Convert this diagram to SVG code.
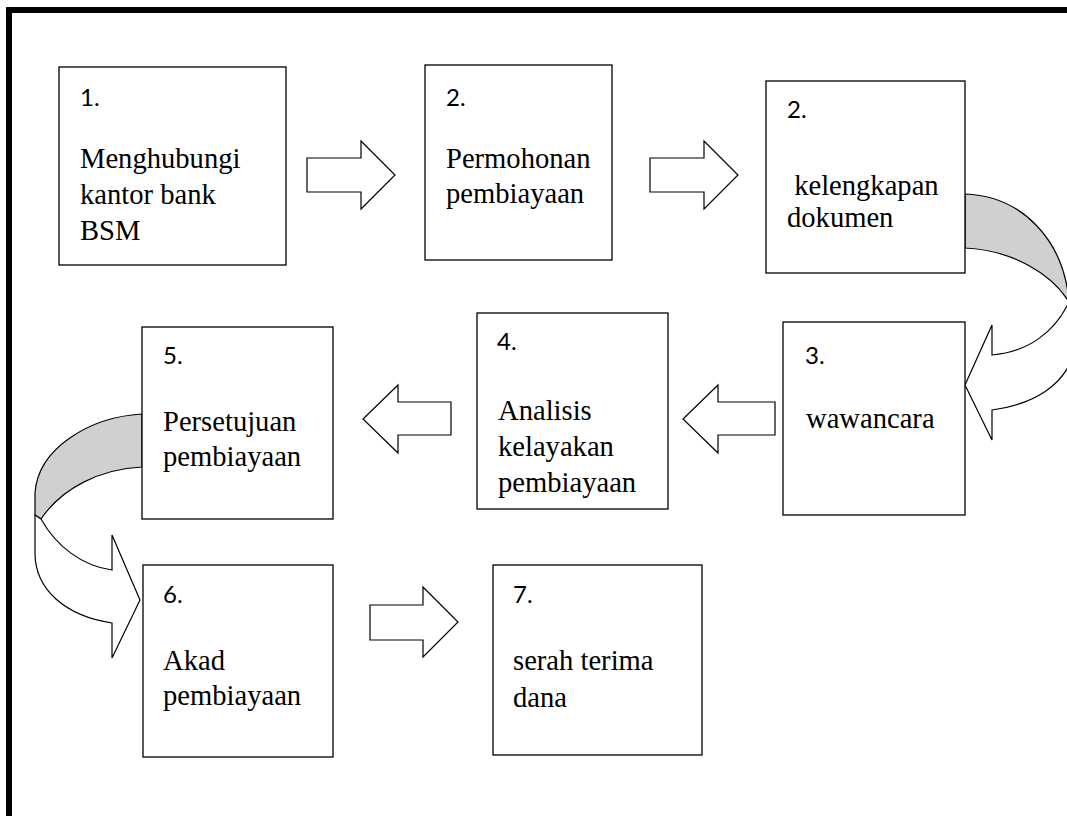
<svg xmlns="http://www.w3.org/2000/svg" width="1067" height="816" viewBox="0 0 1067 816">
<style>
.box{fill:#fff;stroke:#000;stroke-width:1.3}
.num{font-family:Lato,"Liberation Sans",sans-serif;font-size:24px;fill:#000}
.t{font-family:"Liberation Serif","Times New Roman",serif;font-size:28.6px;fill:#000}
.ar{fill:#fff;stroke:#000;stroke-width:1.2;stroke-linejoin:miter}
.band{fill:#d0d0d0;stroke:#000;stroke-width:1.2}
</style>
<rect x="0" y="0" width="1067" height="816" fill="#fff"/>
<rect x="9" y="10" width="1070" height="830" fill="none" stroke="#000" stroke-width="6"/>
<g id="connectors">
<path class="ar" d="M307,158 L361,158 L361,141 L395,175 L361,209 L361,192 L307,192 Z"/>
<path class="ar" d="M650,158 L704,158 L704,141 L738,175 L704,209 L704,192 L650,192 Z"/>
<path class="ar" d="M775,402 L718,402 L718,385 L683,419 L718,453 L718,435 L775,435 Z"/>
<path class="ar" d="M451,402 L398,402 L398,385 L363,419 L398,453 L398,435 L451,435 Z"/>
<path class="ar" d="M370,605 L423,605 L423,587 L458,622 L423,657 L423,640 L370,640 Z"/>
<path class="band" d="M965,194 C1022,196 1064,240 1069,302 C1052,274 1012,250 965,248 Z"/>
<path class="ar" d="M1069,302 C1055,332 1028,352 992,355 L992,325 L965,385 L992,440 L992,410 C1036,404 1066,384 1075,350 L1075,300 Z"/>
<path class="band" d="M142,414 C90,417 38,448 35,493 L35,515 L41,519 C62,488 100,469 142,467 Z"/>
<path class="ar" d="M41,519 C56,546 82,566 112,570 L112,535 L140,600 L112,658 L112,623 C66,616 35,590 35,553 L35,515 Z"/>
</g>
<g id="n1"><rect class="box" x="59" y="67" width="227" height="198"/><text class="num" x="80" y="106">1.</text><text class="t" x="80" y="168">Menghubungi</text><text class="t" x="80" y="204">kantor bank</text><text class="t" x="80" y="240">BSM</text></g>
<g id="n2"><rect class="box" x="425" y="65" width="187" height="195"/><text class="num" x="446" y="106">2.</text><text class="t" x="446" y="168">Permohonan</text><text class="t" x="446" y="203">pembiayaan</text></g>
<g id="n3"><rect class="box" x="766" y="81" width="199" height="192"/><text class="num" x="787" y="118">2.</text><text class="t" x="787" y="195" xml:space="preserve"> kelengkapan</text><text class="t" x="787" y="227">dokumen</text></g>
<g id="n4"><rect class="box" x="783" y="322" width="182" height="193"/><text class="num" x="805" y="364">3.</text><text class="t" x="806" y="428">wawancara</text></g>
<g id="n5"><rect class="box" x="477" y="313" width="191" height="196"/><text class="num" x="497" y="350">4.</text><text class="t" x="498" y="420">Analisis</text><text class="t" x="498" y="456">kelayakan</text><text class="t" x="498" y="492">pembiayaan</text></g>
<g id="n6"><rect class="box" x="142" y="327" width="191" height="192"/><text class="num" x="163" y="364">5.</text><text class="t" x="163" y="431">Persetujuan</text><text class="t" x="163" y="466">pembiayaan</text></g>
<g id="n7"><rect class="box" x="143" y="565" width="190" height="192"/><text class="num" x="163" y="603">6.</text><text class="t" x="163" y="670">Akad</text><text class="t" x="163" y="705">pembiayaan</text></g>
<g id="n8"><rect class="box" x="493" y="565" width="209" height="190"/><text class="num" x="513" y="603">7.</text><text class="t" x="513" y="670">serah terima</text><text class="t" x="513" y="707">dana</text></g>
</svg>
